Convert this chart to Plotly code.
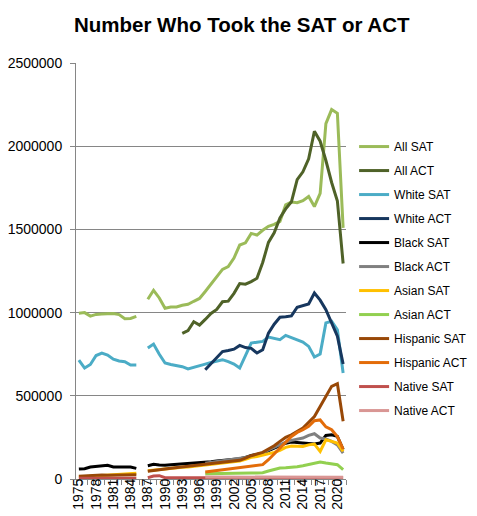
import plotly.graph_objects as go

# years 1975-2021 (no data for 1986)
years = list(range(1975, 2022))
N = None

all_sat = [996000, 1000000, 979000, 989000, 992000, 992000, 994000, 988000, 963000, 965000, 977000, N,
           1080000, 1134000, 1088000, 1026000, 1033000, 1034000, 1044000, 1050000, 1068000, 1085000,
           1127000, 1173000, 1220000, 1260000, 1276000, 1328000, 1406000, 1419000, 1476000, 1466000,
           1495000, 1519000, 1530000, 1548000, 1647000, 1664000, 1660000, 1672000, 1698000, 1637000,
           1716000, 2136000, 2220000, 2198000, 1509000]
all_act = [N] * 18 + [875000, 892000, 945000, 925000, 959000, 995000, 1019000, 1065000, 1069000,
           1116000, 1175000, 1171000, 1186000, 1206000, 1301000, 1422000, 1480000, 1569000, 1623000,
           1666000, 1799000, 1846000, 1924000, 2090000, 2030000, 1914000, 1782000, 1671000, 1295000]
white_sat = [715000, 667000, 688000, 742000, 757000, 745000, 720000, 709000, 705000, 685000, 685000, N,
             787000, 811000, 750000, 697000, 688000, 683000, 675000, 661000, 670000, 677000,
             690000, 700000, 707000, 717000, 705000, 691000, 667000, 745000, 817000, 822000,
             827000, 853000, 845000, 837000, 863000, 850000, 835000, 823000, 797000, 733000,
             751000, 938000, 948000, 897000, 637000]
white_act = [N] * 22 + [657000, 695000, 727000, 766000, 772000, 780000, 803000, 790000, 785000, 757000,
             777000, 877000, 930000, 972000, 975000, 980000, 1032000, 1040000, 1052000, 1118000,
             1075000, 1017000, 940000, 858000, 691000]
black_sat = [60000, 62000, 72000, 76000, 78000, 82000, 72000, 72000, 76000, 72000, 64000, N,
             80000, 88000, 84000, 82000, 86000, 88000, 90000, 92000, 94000, 96000,
             100000, 104000, 108000, 112000, 114000, 116000, 122000, 130000, 142000, 148000,
             155000, 170000, 185000, 200000, 215000, 222000, 218000, 216000, 212000, 210000,
             216000, 262000, 266000, 256000, 176000]
black_act = [N] * 22 + [95000, 100000, 104000, 108000, 112000, 118000, 125000, 130000, 138000, 148000,
             156000, 175000, 190000, 205000, 222000, 232000, 238000, 246000, 262000, 272000,
             246000, 240000, 226000, 205000, 156000]
asian_sat = [12000, 14000, 16000, 18000, 20000, 22000, 25000, 28000, 30000, 33000, 35000, N,
             50000, 54000, 56000, 60000, 62000, 66000, 70000, 72000, 76000, 80000,
             84000, 88000, 90000, 94000, 96000, 100000, 108000, 118000, 130000, 135000,
             142000, 152000, 160000, 172000, 190000, 198000, 196000, 196000, 205000, 210000,
             166000, 236000, 226000, 216000, 166000]
asian_act = [N] * 22 + [32000, 33000, 34000, 35000, 35000, 36000, 36000, 36000, 36000, 36000,
             38000, 48000, 58000, 66000, 68000, 70000, 74000, 80000, 88000, 96000,
             102000, 96000, 90000, 86000, 56000]
hispanic_sat = [16000, 18000, 22000, 24000, 24000, 22000, 22000, 22000, 24000, 25000, 25000, N,
                46000, 52000, 56000, 60000, 64000, 68000, 70000, 76000, 78000, 80000,
                84000, 88000, 92000, 96000, 100000, 106000, 112000, 125000, 140000, 150000,
                160000, 180000, 200000, 226000, 250000, 266000, 285000, 306000, 340000, 375000,
                435000, 497000, 557000, 573000, 347000]
hispanic_act = [N] * 22 + [42000, 46000, 50000, 54000, 58000, 62000, 68000, 72000, 78000, 82000,
                86000, 116000, 150000, 186000, 222000, 256000, 280000, 296000, 317000, 350000,
                355000, 313000, 296000, 255000, 180000]
native_sat = [5000, 5000, 5000, 5000, 5000, 5000, 5000, 5000, 5000, 5000, 5000, N,
              8000, 18000, 20000, 8000, 7000, 7000, 7000, 7000, 7000, 7000,
              7000, 7000, 7000, 7000, 7000, 7000, 8000, 8000, 8000, 8000,
              8000, 9000, 9000, 9000, 9000, 9000, 9000, 9000, 9000, 9000,
              9000, 9000, 9000, 9000, 8000]
native_act = [N] * 22 + [12000, 12000, 12000, 12000, 12000, 12000, 12000, 12000, 12000, 12000,
              12000, 13000, 13000, 13000, 13000, 13000, 13000, 13000, 13000, 13000,
              13000, 13000, 13000, 12000, 10000]

names = ["All SAT", "All ACT", "White SAT", "White ACT", "Black SAT", "Black ACT",
         "Asian SAT", "Asian ACT", "Hispanic SAT", "Hispanic ACT", "Native SAT", "Native ACT"]
series = [all_sat, all_act, white_sat, white_act, black_sat, black_act,
          asian_sat, asian_act, hispanic_sat, hispanic_act, native_sat, native_act]
colors = ["#9BBB59", "#4F6228", "#4BACC6", "#17375E", "#000000", "#808080",
          "#FFC000", "#92D050", "#984807", "#E36C09", "#C0504D", "#D99694"]

fig = go.Figure()
for i, (nm, ys, c) in enumerate(zip(names, series, colors)):
    fig.add_trace(go.Scatter(x=years, y=ys, name=nm, mode="lines",
                             line=dict(color=c, width=3), connectgaps=False,
                             legendgroup=str(i)))

tick_years = list(range(1975, 2022, 3))

fig.update_layout(
    width=477, height=516,
    margin=dict(l=68, r=133, t=55, b=45),
    paper_bgcolor="white", plot_bgcolor="white",
    font=dict(family="Liberation Sans", size=13, color="black"),
    title=dict(text="<b>Number Who Took the SAT or ACT</b>", x=0.49, xanchor="center",
               y=0.968, yanchor="middle", font=dict(size=20.5, color="black")),
    legend=dict(x=1.03, y=0.834, xanchor="left", yanchor="top", tracegroupgap=5,
                font=dict(size=12), bgcolor="rgba(0,0,0,0)"),
    showlegend=True,
)
fig.update_xaxes(range=[1974.5, 2021.5], tickmode="array", tickvals=tick_years,
                 ticktext=[str(y) for y in tick_years], tickangle=-90, ticks="",
                 tickfont=dict(size=14), ticklabelstandoff=-7,
                 showgrid=False, zeroline=False, showline=True, linecolor="#868686",
                 linewidth=1, automargin=False,
                 minor=dict(tickmode="linear", tick0=1974.5, dtick=1, ticks="outside",
                            ticklen=5, tickcolor="#868686", showgrid=False))
fig.update_yaxes(range=[0, 2500000], dtick=500000, tickformat="d", showgrid=True,
                 gridcolor="#868686", gridwidth=1, zeroline=False, showline=True,
                 linecolor="#868686", ticks="outside", ticklen=5, tickcolor="#868686",
                 tickfont=dict(size=14), ticklabelstandoff=5, automargin=False)

fig.write_html("out.html")
